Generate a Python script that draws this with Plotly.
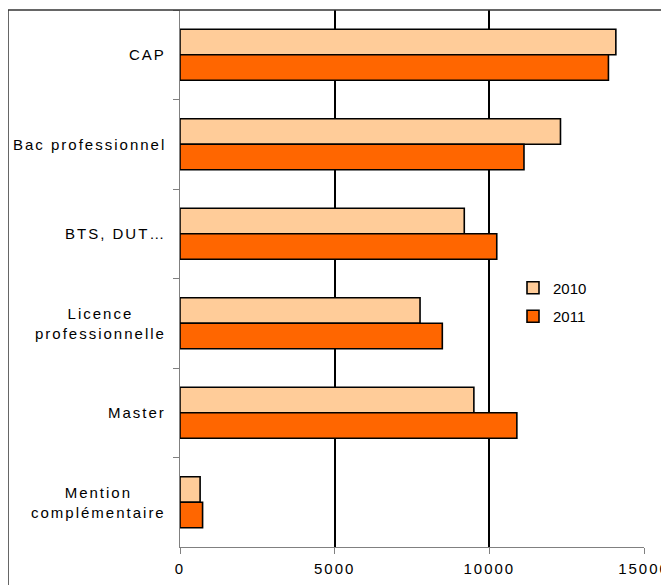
import plotly.graph_objects as go

categories = ["CAP", "Bac professionnel", "BTS, DUT…", "Licence<br>professionnelle", "Master", "Mention<br>complémentaire"]
values_2010 = [14090, 12300, 9190, 7760, 9500, 650]
values_2011 = [13850, 11120, 10240, 8480, 10890, 730]
series_names = ["2010", "2011"]
x_ticks = [0, 5000, 10000, 15000]

W, H = 669, 585
# page body has an 8px margin; plot area wanted at x 180..644, y 10..547 on the page
ML, MR, MT, MB = 172, 33, 2, 46
FONT = "Liberation Sans, Arial, sans-serif"

fig = go.Figure()
fig.add_trace(go.Bar(y=categories, x=values_2010, orientation="h", name=series_names[0],
                     marker=dict(color="#FFCC99", line=dict(color="black", width=1.6)),
                     legendgroup="a"))
fig.add_trace(go.Bar(y=categories, x=values_2011, orientation="h", name=series_names[1],
                     marker=dict(color="#FF6600", line=dict(color="black", width=1.6)),
                     legendgroup="b"))

for c in categories:
    fig.add_annotation(x=0, xref="paper", y=c, yref="y", text=c, showarrow=False,
                       xanchor="right", align="center", xshift=-14,
                       font=dict(family=FONT, size=15, color="black"))

pw = W - ML - MR
ph = H - MT - MB
fx = -ML / pw
fig.add_shape(type="line", xref="paper", yref="paper", x0=fx, x1=fx, y0=1.0, y1=-0.5,
              line=dict(color="#333333", width=1.5))
fig.add_shape(type="line", xref="paper", yref="paper", x0=fx, x1=1.2, y0=1.0, y1=1.0,
              line=dict(color="#333333", width=1.5))

fig.update_layout(
    width=W, height=H,
    margin=dict(l=ML, r=MR, t=MT, b=MB, pad=0),
    paper_bgcolor="white", plot_bgcolor="white",
    barmode="group", bargap=0.43, bargroupgap=0,
    font=dict(family=FONT, size=15, color="black"),
    showlegend=True,
    legend=dict(x=(505 - ML) / pw, y=(H - MB - 294) / ph, xanchor="left", yanchor="middle",
                bgcolor="rgba(0,0,0,0)", tracegroupgap=6,
                font=dict(family=FONT, size=15, color="black")),
    xaxis=dict(range=[0, 15000], tickvals=x_ticks, ticktext=[str(v) for v in x_ticks],
               showgrid=True, gridcolor="black", gridwidth=1.6, zeroline=False,
               showline=True, linecolor="#808080", linewidth=1,
               ticks="outside", ticklen=6, tickcolor="#808080", ticklabelstandoff=2,
               tickfont=dict(family=FONT, size=15, color="black")),
    yaxis=dict(autorange="reversed", showticklabels=False, tickson="boundaries",
               ticks="outside", ticklen=6, tickcolor="#808080",
               showline=True, linecolor="#808080", linewidth=1, showgrid=False),
)

# widen letter spacing like the original rendering, keeping category labels right-aligned
post = """
var gd = document.getElementById('{plot_id}');
gd.querySelectorAll('.xtick text').forEach(function(t){ t.style.letterSpacing = '2px'; });
gd.querySelectorAll('.annotation-text').forEach(function(t){
  var b0 = t.getBBox(); var r0 = b0.x + b0.width;
  t.style.letterSpacing = '2px';
  var b1 = t.getBBox(); var r1 = b1.x + b1.width;
  var tr = t.getAttribute('transform') || '';
  t.setAttribute('transform', tr + ' translate(' + (r0 - r1 + 2) + ',0)');
});
"""
fig.write_html("out.html", post_script=post)
